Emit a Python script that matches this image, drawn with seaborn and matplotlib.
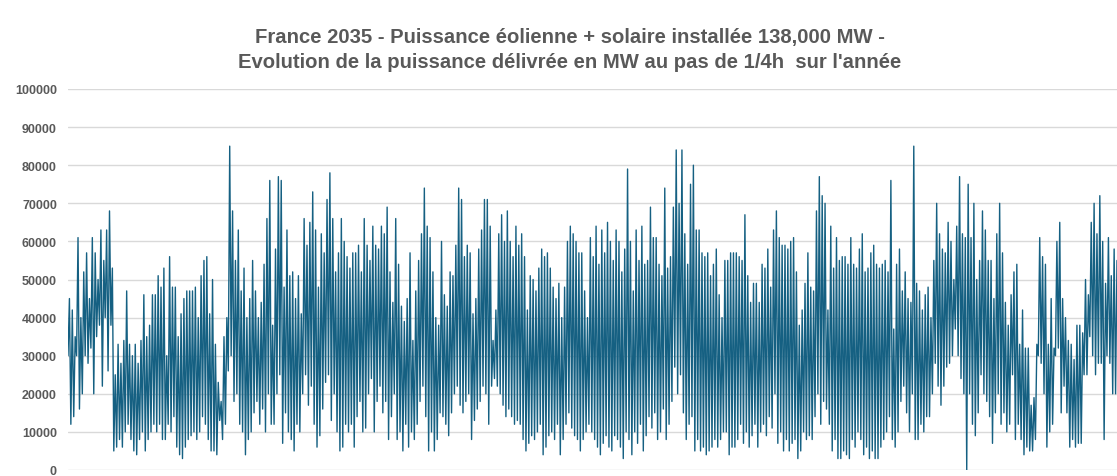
import numpy as np
import pandas as pd
import seaborn as sns
import matplotlib.pyplot as plt

# puissance max / min de chaque journee, en milliers de MW
max_jour = [
    45, 42, 35, 61, 40, 52, 57, 45, 61, 57, 50, 63, 55, 63, 68, 53, 25, 33, 28, 34, 47, 33, 30, 33, 28, 34, 46, 35, 38, 46, 46,
    51, 48, 53, 30, 56, 48, 48, 35, 41, 45, 47, 47, 47, 48, 40, 51, 55, 56, 41, 50, 33, 23, 18, 35, 40, 85, 68, 55, 63, 47, 53, 40, 45, 55,
    47, 40, 44, 54, 66, 76, 38, 58, 77, 76, 48, 63, 51, 52, 45, 51, 41, 66, 59, 65, 73, 63, 48, 62, 57, 71, 78, 66, 52, 57, 66, 60, 56,
    53, 57, 57, 59, 52, 66, 59, 55, 64, 59, 58, 64, 62, 69, 52, 44, 66, 54, 43, 39, 45, 57, 34, 47, 55, 62, 74, 64, 61, 52, 40, 38, 60,
    46, 43, 52, 51, 59, 74, 71, 56, 59, 57, 41, 45, 58, 63, 71, 71, 64, 34, 42, 62, 67, 60, 68, 60, 56, 64, 59, 62, 56, 42, 51, 50,
    47, 53, 58, 56, 57, 53, 48, 45, 49, 40, 48, 60, 64, 62, 60, 57, 57, 47, 40, 61, 56, 64, 54, 63, 57, 65, 60, 55, 63, 60, 52, 58, 79,
    60, 47, 63, 55, 64, 54, 55, 69, 61, 61, 54, 51, 74, 53, 56, 69, 84, 70, 84, 62, 54, 75, 80, 63, 63, 57, 56, 57, 51, 54, 58, 46, 40, 55,
    55, 57, 57, 57, 56, 55, 67, 51, 44, 49, 49, 44, 54, 53, 58, 48, 63, 68, 61, 59, 59, 58, 60, 61, 52, 38, 42, 49, 57, 48, 47, 68, 77,
    72, 70, 42, 64, 53, 61, 55, 56, 56, 54, 61, 54, 53, 58, 62, 52, 53, 57, 59, 54, 53, 54, 55, 52, 76, 37, 54, 58, 47, 52, 45, 44, 85, 49,
    47, 42, 46, 48, 40, 55, 70, 62, 58, 57, 65, 60, 50, 64, 77, 62, 61, 75, 61, 70, 50, 55, 68, 63, 55, 55, 45, 62, 70, 57, 44, 38, 46, 52,
    54, 33, 42, 32, 32, 17, 19, 33, 61, 56, 54, 33, 45, 32, 60, 65, 45, 40, 34, 33, 29, 38, 38, 36, 50, 46, 65, 70, 62, 72, 60, 49, 61, 51, 58, 55,
]
min_jour = [
    30, 12, 14, 30, 16, 20, 30, 28, 32, 20, 35, 38, 22, 40, 26, 38, 5, 6, 8, 6, 10, 12, 8, 5, 4, 8, 10, 5, 8, 10, 12,
    10, 12, 8, 8, 12, 10, 14, 6, 4, 3, 6, 8, 9, 10, 8, 10, 14, 12, 8, 5, 5, 4, 13, 8, 12, 26, 30, 18, 20, 12, 10, 4, 8, 10,
    15, 18, 12, 16, 10, 20, 12, 12, 20, 25, 7, 15, 10, 8, 5, 12, 10, 20, 25, 17, 22, 12, 6, 9, 16, 23, 25, 13, 20, 10, 5, 6, 12,
    10, 12, 6, 14, 18, 10, 11, 20, 24, 10, 18, 22, 15, 18, 8, 14, 20, 8, 10, 5, 12, 6, 10, 8, 12, 18, 22, 14, 5, 10, 5, 8, 15,
    14, 12, 9, 15, 20, 22, 17, 15, 18, 20, 8, 13, 16, 18, 22, 20, 12, 22, 24, 22, 20, 17, 14, 16, 14, 12, 13, 12, 8, 5, 7, 9,
    8, 10, 12, 4, 6, 9, 10, 8, 12, 4, 8, 12, 15, 11, 9, 8, 5, 8, 10, 12, 10, 8, 6, 4, 7, 9, 6, 5, 9, 8, 6, 3, 10,
    8, 4, 10, 7, 12, 5, 9, 14, 11, 15, 8, 10, 16, 8, 12, 18, 27, 20, 25, 15, 8, 12, 14, 5, 8, 5, 6, 4, 5, 6, 8, 6, 8, 10,
    10, 4, 6, 6, 8, 12, 7, 10, 6, 9, 12, 6, 10, 12, 9, 14, 11, 20, 7, 10, 5, 8, 5, 7, 8, 3, 5, 10, 8, 9, 8, 14, 20,
    12, 18, 16, 12, 5, 8, 3, 3, 5, 4, 3, 8, 6, 10, 8, 4, 6, 3, 5, 3, 3, 6, 8, 10, 14, 8, 6, 10, 18, 22, 15, 10, 20, 8,
    8, 12, 10, 14, 14, 20, 28, 22, 17, 22, 27, 28, 30, 37, 30, 24, 20, 0, 20, 12, 9, 15, 25, 20, 18, 14, 7, 15, 20, 12, 15, 10, 12, 25,
    8, 12, 8, 4, 6, 5, 5, 8, 30, 28, 20, 6, 10, 12, 30, 32, 15, 22, 15, 6, 8, 6, 7, 7, 25, 25, 35, 30, 25, 28, 28, 8, 30, 28, 20, 20,
]
y_ticks = list(range(0, 100001, 10000))
titre = ("France 2035 - Puissance éolienne + solaire installée 138,000 MW -\n"
         "Evolution de la puissance délivrée en MW au pas de 1/4h  sur l'année")

# nuit (min) puis midi (max) pour chaque jour
puissance = np.column_stack([min_jour, max_jour]).ravel() * 1000
df = pd.DataFrame({'pas': np.arange(len(puissance)), 'MW': puissance})

sns.set_style('white')
plt.rcParams['font.family'] = ['Liberation Sans', 'DejaVu Sans']

fig = plt.figure(figsize=(11.17, 4.77), dpi=100)
ax = fig.add_axes([68 / 1117, 6 / 477, 1 - 68 / 1117, 381 / 477])
sns.lineplot(data=df, x='pas', y='MW', ax=ax, color='#156082', linewidth=1.0,
             estimator=None, sort=False)

ax.set_xlim(0, len(puissance) - 1)
ax.set_ylim(0, 100000)
ax.set_yticks(y_ticks)
ax.set_yticklabels([str(v) for v in y_ticks])
ax.set_xticks([])
ax.set_xlabel('')
ax.set_ylabel('')
ax.grid(axis='y', color='#D9D9D9', linewidth=1)
ax.set_axisbelow(True)
for s in ax.spines.values():
    s.set_visible(False)
ax.tick_params(axis='y', length=0, pad=8, labelsize=9, labelcolor='#595959')
for lab in ax.get_yticklabels():
    lab.set_fontweight('bold')

fig.text(0.51, 1 - 50 / 477, titre, ha='center', va='center', fontsize=14.6,
         fontweight='bold', color='#595959', linespacing=1.45)

fig.savefig('out.png', dpi=100)
